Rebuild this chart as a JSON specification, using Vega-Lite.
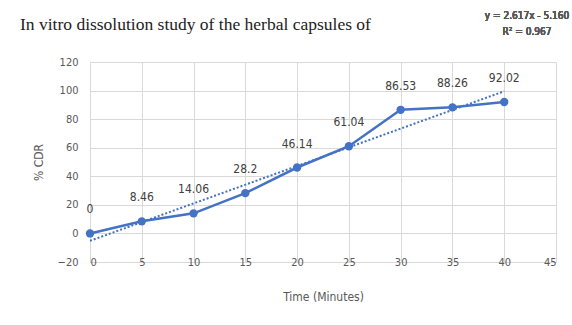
{
  "$schema": "https://vega.github.io/schema/vega-lite/v6.json",
  "width": 466,
  "height": 200,
  "autosize": {"type": "none"},
  "padding": {"left": 90, "top": 62, "right": 16, "bottom": 63},
  "background": "white",
  "config": {"view": {"stroke": null}},
  "title": {
    "text": "In vitro dissolution study of the herbal capsules of",
    "font": "Liberation Serif",
    "fontSize": 17.5,
    "fontWeight": "normal",
    "color": "#222222",
    "anchor": "start",
    "frame": "group",
    "dx": -70,
    "dy": 37,
    "baseline": "alphabetic",
    "offset": 0
  },
  "data": {
    "values": [
      {"time": 0, "cdr": 0},
      {"time": 5, "cdr": 8.46},
      {"time": 10, "cdr": 14.06},
      {"time": 15, "cdr": 28.2},
      {"time": 20, "cdr": 46.14},
      {"time": 25, "cdr": 61.04},
      {"time": 30, "cdr": 86.53},
      {"time": 35, "cdr": 88.26},
      {"time": 40, "cdr": 92.02}
    ]
  },
  "encoding": {
    "x": {
      "field": "time",
      "type": "quantitative",
      "scale": {"domain": [0, 45], "nice": false, "zero": false},
      "axis": {
        "title": "Time (Minutes)",
        "values": [0, 5, 10, 15, 20, 25, 30, 35, 40, 45],
        "grid": true,
        "gridColor": "#d9d9d9",
        "domain": false,
        "ticks": false,
        "labelBaseline": "middle",
        "labelPadding": 0,
        "labelFont": "DejaVu Sans Condensed",
        "labelFontSize": 11,
        "labelColor": "#595959",
        "titleFont": "DejaVu Sans Condensed",
        "titleFontSize": 12,
        "titleFontWeight": "normal",
        "titleColor": "#595959",
        "titlePadding": 24
      }
    },
    "y": {
      "field": "cdr",
      "type": "quantitative",
      "scale": {"domain": [-20, 120], "nice": false, "zero": false},
      "axis": {
        "title": "% CDR",
        "values": [-20, 0, 20, 40, 60, 80, 100, 120],
        "grid": true,
        "gridColor": "#d9d9d9",
        "domain": false,
        "ticks": false,
        "labelPadding": 12,
        "labelFont": "DejaVu Sans Condensed",
        "labelFontSize": 11,
        "labelColor": "#595959",
        "titleFont": "DejaVu Sans Condensed",
        "titleFontSize": 12,
        "titleFontWeight": "normal",
        "titleColor": "#595959",
        "titlePadding": 12
      }
    }
  },
  "layer": [
    {
      "transform": [{"regression": "cdr", "on": "time", "extent": [0, 40]}],
      "mark": {"type": "line", "color": "#4472C4", "strokeWidth": 2, "strokeDash": [2, 2]}
    },
    {
      "mark": {"type": "line", "color": "#4472C4", "strokeWidth": 2.5, "point": {"filled": true, "size": 70, "color": "#4472C4"}}
    },
    {
      "mark": {"type": "text", "dy": -24, "font": "DejaVu Sans Condensed", "fontSize": 12, "color": "#404040"},
      "encoding": {"text": {"field": "cdr", "type": "quantitative"}}
    },
    {
      "mark": {"type": "text", "align": "center", "baseline": "middle", "lineHeight": 16, "font": "DejaVu Sans Condensed", "fontSize": 10, "color": "#595959", "clip": false},
      "encoding": {
        "x": {"datum": 42.2},
        "y": {"datum": 152.5},
        "text": {"value": ["y = 2.617x - 5.160", "R² = 0.967"]}
      }
    }
  ]
}
